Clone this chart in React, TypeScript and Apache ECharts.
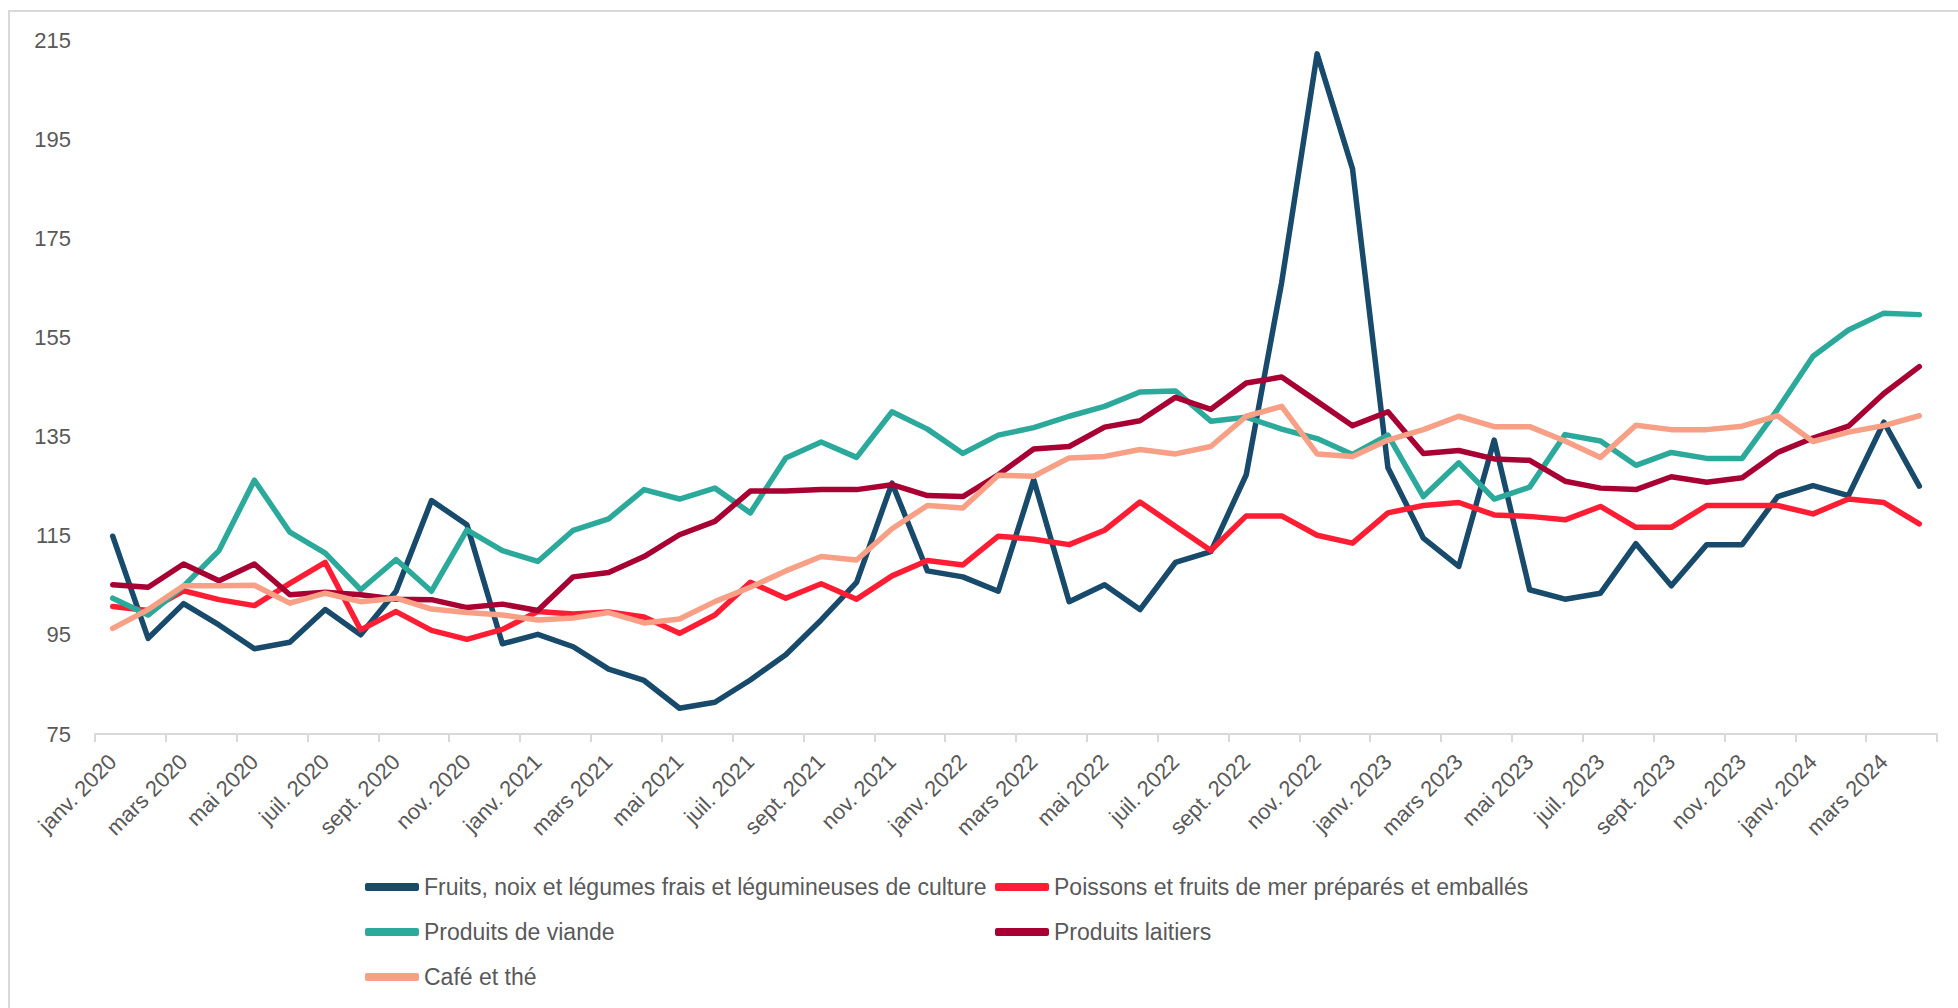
import React, { useEffect, useRef } from "react";
import * as echarts from "echarts";

const monthNames = ["janv.", "févr.", "mars", "avr.", "mai", "juin", "juil.", "août", "sept.", "oct.", "nov.", "déc."];
const years = [2020, 2021, 2022, 2023, 2024];
const monthCount = 52;
const categories: string[] = [];
for (let i = 0; i < monthCount; i++) {
  categories.push(monthNames[i % 12] + " " + years[Math.floor(i / 12)]);
}

const seriesNames = [
  "Fruits, noix et légumes frais et légumineuses de culture",
  "Poissons et fruits de mer préparés et emballés",
  "Produits de viande",
  "Produits laitiers",
  "Café et thé",
];

const fruits = [
  114.9, 94.3, 101.3, 97.0, 92.2, 93.5, 100.1, 95.0, 103.8, 122.1, 117.2, 93.2,
  95.1, 92.6, 88.1, 85.8, 80.2, 81.4, 85.9, 91.0, 98.0, 105.6, 125.6, 107.9,
  106.7, 103.8, 126.3, 101.7, 105.1, 100.1, 109.6, 111.8, 127.3, 166.1, 212.2, 189.0,
  128.7, 114.5, 108.8, 134.3, 104.1, 102.2, 103.4, 113.4, 104.9, 113.2, 113.2, 122.9,
  125.1, 123.1, 137.9, 125.0,
];
const poissons = [
  100.7, 99.9, 103.9, 102.1, 100.9, 105.4, 109.6, 96.0, 99.7, 95.9, 94.1, 96.1,
  99.7, 99.2, 99.6, 98.6, 95.3, 99.0, 105.6, 102.4, 105.3, 102.2, 106.9, 110.0,
  109.1, 114.9, 114.3, 113.2, 116.1, 121.8, 116.9, 112.0, 119.0, 119.0, 115.1, 113.5,
  119.6, 121.1, 121.7, 119.2, 118.9, 118.2, 120.9, 116.7, 116.7, 121.1, 121.1, 121.1,
  119.4, 122.4, 121.7, 117.4,
];
const viande = [
  102.4, 99.0, 104.8, 112.0, 126.2, 115.7, 111.5, 104.1, 110.2, 103.8, 116.2, 112.0,
  109.8, 116.1, 118.4, 124.3, 122.4, 124.6, 119.6, 130.7, 133.9, 130.8, 140.0, 136.5,
  131.6, 135.3, 136.8, 139.1, 141.1, 144.0, 144.2, 138.1, 138.9, 136.5, 134.6, 131.4,
  135.3, 122.9, 129.7, 122.4, 124.8, 135.4, 134.1, 129.2, 131.8, 130.6, 130.6, 140.5,
  151.2, 156.5, 159.9, 159.6,
];
const laitiers = [
  105.1, 104.6, 109.3, 105.9, 109.3, 103.1, 103.6, 103.1, 102.2, 102.1, 100.5, 101.2,
  99.9, 106.7, 107.6, 110.8, 115.2, 117.9, 124.0, 124.0, 124.3, 124.3, 125.3, 123.1,
  122.9, 127.3, 132.5, 133.0, 136.9, 138.2, 142.9, 140.5, 145.8, 147.0, 142.1, 137.2,
  140.0, 131.6, 132.2, 130.5, 130.2, 126.0, 124.6, 124.3, 126.9, 125.8, 126.7, 131.8,
  134.7, 137.1, 143.7, 149.1,
];
const cafe = [
  96.3, 100.1, 104.9, 104.9, 105.0, 101.4, 103.4, 101.7, 102.4, 100.2, 99.5, 99.0,
  98.0, 98.4, 99.5, 97.4, 98.2, 101.7, 104.6, 107.9, 110.8, 110.1, 116.4, 121.1,
  120.6, 127.2, 127.0, 130.7, 131.0, 132.4, 131.5, 133.0, 139.1, 141.1, 131.5, 131.0,
  134.3, 136.4, 139.1, 137.0, 137.0, 134.1, 130.8, 137.3, 136.4, 136.4, 137.1, 139.2,
  134.0, 135.9, 137.2, 139.2,
];

const seriesData = [fruits, poissons, viande, laitiers, cafe];
const colors = ["#184A6B", "#FF1D34", "#2BA99B", "#A90034", "#F7A086"];

const FONT = "'Liberation Sans', Arial, sans-serif";
const TEXT = "#595959";

export default function App() {
  const ref = useRef<HTMLDivElement>(null);

  useEffect(() => {
    if (!ref.current) return;
    const chart = echarts.init(ref.current, undefined, { renderer: "svg" });

    const legendPos = [
      { left: 365, top: 887 },
      { left: 995, top: 887 },
      { left: 365, top: 932 },
      { left: 995, top: 932 },
      { left: 365, top: 977 },
    ];

    chart.setOption({
      animation: false,
      backgroundColor: "#ffffff",
      grid: { left: 95, right: 21, top: 40, bottom: 274, containLabel: false },
      xAxis: {
        type: "category",
        data: categories,
        boundaryGap: true,
        axisLine: { show: true, lineStyle: { color: "#D9D9D9", width: 2 } },
        axisTick: { show: true, interval: 1, length: 8, lineStyle: { color: "#D9D9D9", width: 2 } },
        axisLabel: {
          interval: 1,
          rotate: 45,
          margin: 24,
          color: TEXT,
          fontSize: 22,
          fontFamily: FONT,
        },
        splitLine: { show: false },
      },
      yAxis: {
        type: "value",
        min: 75,
        max: 215,
        interval: 20,
        axisLine: { show: false },
        axisTick: { show: false },
        splitLine: { show: false },
        axisLabel: { color: TEXT, fontSize: 22, fontFamily: FONT, margin: 24 },
      },
      legend: seriesNames.map((name, i) => ({
        data: [name],
        left: legendPos[i].left,
        top: legendPos[i].top - 13,
        padding: 0,
        itemWidth: 54,
        itemHeight: 8,
        itemGap: 0,
        icon: "roundRect",
        selectedMode: false,
        textStyle: { color: TEXT, fontSize: 23, fontFamily: FONT, lineHeight: 26, padding: [0, 0, 0, 0] },
      })),
      graphic: [
        {
          type: "rect",
          shape: { x: 9, y: 11, width: 1970, height: 1010 },
          style: { fill: "none", stroke: "#D9D9D9", lineWidth: 2 },
          silent: true,
        },
      ],
      series: seriesNames.map((name, i) => ({
        name,
        type: "line",
        data: seriesData[i],
        color: colors[i],
        showSymbol: false,
        symbol: "none",
        lineStyle: { color: colors[i], width: 5.5, cap: "round", join: "round" },
        emphasis: { disabled: true },
      })),
    });

    return () => chart.dispose();
  }, []);

  return (
    <div
      ref={ref}
      style={{ position: "absolute", left: 0, top: 0, width: 1958, height: 1008 }}
    />
  );
}
